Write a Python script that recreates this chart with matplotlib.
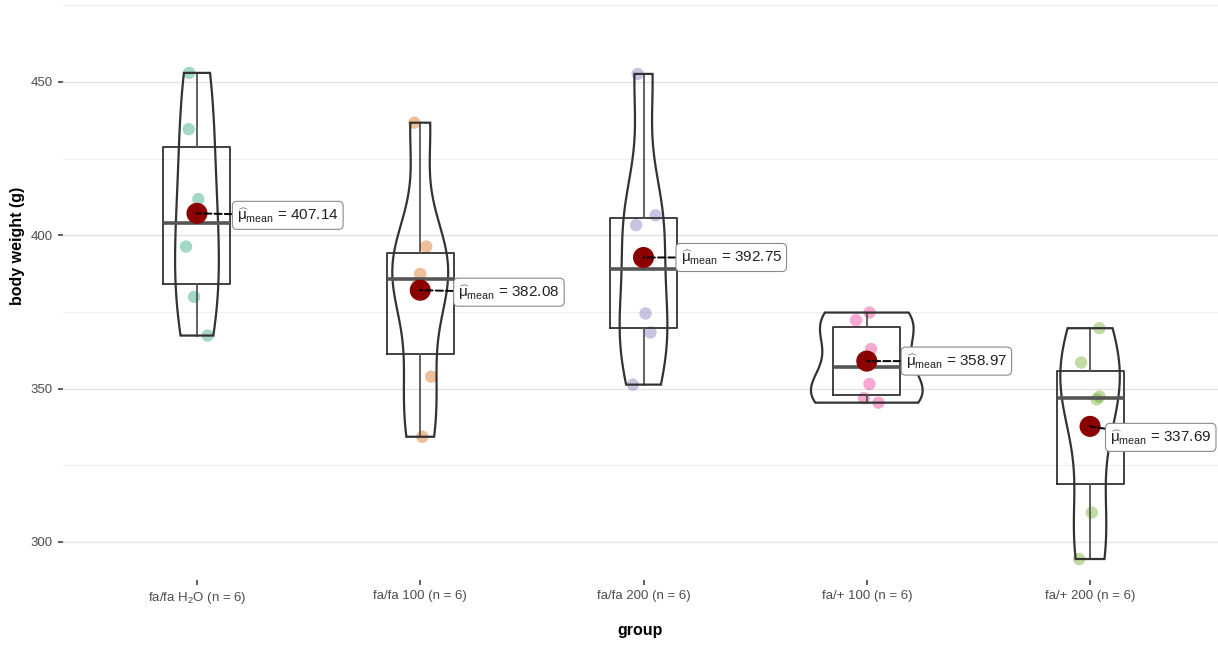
import numpy as np
import matplotlib
matplotlib.use('Agg')
import matplotlib.pyplot as plt
from matplotlib.patches import Polygon

plt.rcParams['font.family'] = ['Liberation Sans', 'DejaVu Sans']
plt.rcParams['mathtext.fontset'] = 'custom'
plt.rcParams['mathtext.rm'] = 'Liberation Sans'
plt.rcParams['mathtext.it'] = 'Liberation Sans'
plt.rcParams['mathtext.bf'] = 'Liberation Sans:bold'

# body weight (g) per group, 6 animals each
groups = ['fa/fa H$_2$O', 'fa/fa 100', 'fa/fa 200', 'fa/+ 100', 'fa/+ 200']
w_faf_h2o = [452.94, 434.6, 411.8, 396.3, 379.9, 367.3]
w_faf_100 = [436.7, 396.3, 387.4, 383.9, 353.9, 334.3]
w_faf_200 = [452.6, 406.5, 403.3, 374.5, 368.3, 351.3]
w_fap_100 = [374.8, 372.3, 362.9, 351.5, 346.9, 345.42]
w_fap_200 = [369.7, 358.5, 347.4, 346.5, 309.6, 294.44]
weights = [w_faf_h2o, w_faf_100, w_faf_200, w_fap_100, w_fap_200]

# horizontal jitter of the raw points
jitter = [
    [-0.035, -0.037, 0.006, -0.049, -0.013, 0.048],
    [-0.026, 0.027, 0.000, -0.010, 0.049, 0.009],
    [-0.026, 0.054, -0.033, 0.009, 0.031, -0.048],
    [0.012, -0.048, 0.019, 0.012, -0.013, 0.052],
    [0.042, -0.040, 0.042, 0.030, 0.008, -0.049],
]

colors = ['#1B9E77', '#D95F02', '#7570B3', '#E7298A', '#66A61E']

# label placement (pixels right of / above the mean dot)
label_dx = [40, 38, 37, 39, 20]
label_dy = [-2, -2, 0, 0, -11]


def nrd0(x):
    sd = np.std(x, ddof=1)
    q75, q25 = np.percentile(x, [75, 25])
    return 0.9 * min(sd, (q75 - q25) / 1.34) * len(x) ** -0.2


def kde(x, grid):
    bw = nrd0(x)
    z = (grid[:, None] - x[None, :]) / bw
    return np.exp(-0.5 * z ** 2).sum(1) / (len(x) * bw * np.sqrt(2 * np.pi))


fig = plt.figure(figsize=(12.18, 6.5), dpi=100)
ax = fig.add_axes([63 / 1218, 70 / 650, 1 - 63 / 1218, 580 / 650])

pos = np.arange(1, len(groups) + 1)

# raw points
for i, (w, j, c) in enumerate(zip(weights, jitter, colors)):
    ax.scatter(pos[i] + np.array(j), w, s=80, color=c, alpha=0.4,
               edgecolors='none', zorder=2)

# boxplots
ax.boxplot(weights, positions=pos, widths=0.3, showcaps=False,
           showfliers=False, manage_ticks=False,
           boxprops=dict(color='#333333', lw=1.3),
           whiskerprops=dict(color='#555555', lw=1.3),
           medianprops=dict(color='#555555', lw=2.6),
           zorder=3)

# violins, trimmed, area-scaled like ggplot
grids = [np.linspace(min(w), max(w), 512) for w in weights]
dens = [kde(np.array(w), g) for w, g in zip(weights, grids)]
dmax = max(d.max() for d in dens)
for i, (g, d) in enumerate(zip(grids, dens)):
    hw = d / dmax * 0.25
    xs = np.concatenate([pos[i] - hw, (pos[i] + hw)[::-1]])
    ys = np.concatenate([g, g[::-1]])
    ax.add_patch(Polygon(np.column_stack([xs, ys]), closed=True,
                         fill=False, ec='#333333', lw=1.6, zorder=3))

# means with labels
for i, w in enumerate(weights):
    m = np.mean(w)
    ax.scatter(pos[i], m, s=230, color='#8B0000', zorder=5,
               edgecolors='none')
    ax.annotate(r'$\widehat{\mu}_{\mathrm{mean}}$' + f' = {m:.2f}',
                xy=(pos[i], m), xytext=(label_dx[i], label_dy[i]),
                textcoords='offset pixels', ha='left', va='center',
                fontsize=11, color='#222222', zorder=6,
                bbox=dict(boxstyle='round,pad=0.3', fc='white',
                          ec='#8a8a8a', lw=0.8),
                arrowprops=dict(arrowstyle='-', ls='--', color='black',
                                lw=1.4, shrinkA=0, shrinkB=0))

ax.set_xlim(0.4, 5.573)
ax.set_ylim(287.6, 476.7)
ax.set_xticks(pos)
ax.set_xticklabels([f'{g} (n = {len(w)})' for g, w in zip(groups, weights)])
ax.set_yticks([300, 350, 400, 450])
ax.set_yticks([325, 375, 425, 475], minor=True)

ax.grid(axis='y', which='major', color='#E3E3E3', lw=1.0)
ax.grid(axis='y', which='minor', color='#EFEFEF', lw=0.8)
ax.grid(axis='x', visible=False)
ax.set_axisbelow(True)
for s in ax.spines.values():
    s.set_visible(False)

ax.tick_params(axis='both', which='major', length=3.5, width=1.1,
               color='#333333', labelcolor='#4D4D4D', labelsize=9.5,
               pad=4)
ax.tick_params(axis='y', which='minor', length=0)

ax.set_xlabel('group', fontsize=11.5, fontweight='bold', labelpad=12)
ax.set_ylabel('body weight (g)', fontsize=11.5, fontweight='bold')
ax.yaxis.set_label_coords(-0.033, 0.576)

fig.savefig('out.png', dpi=100)
